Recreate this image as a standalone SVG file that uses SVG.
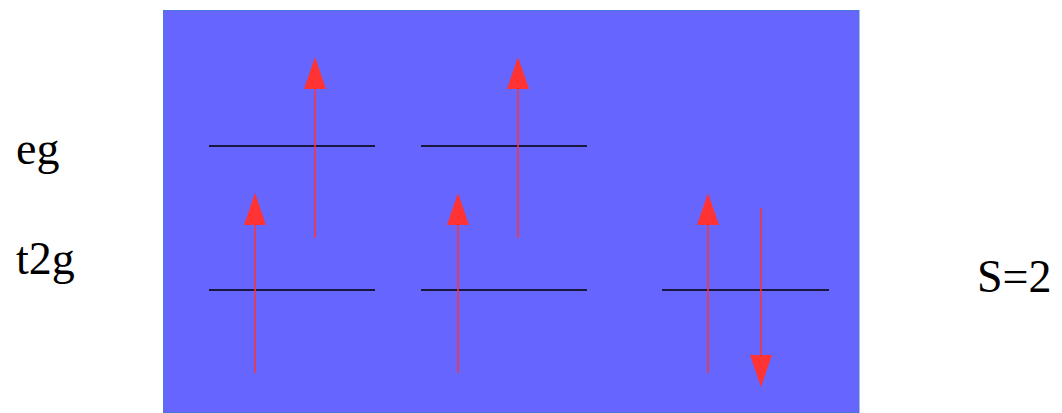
<svg xmlns="http://www.w3.org/2000/svg" width="1062" height="413" viewBox="0 0 1062 413">
<style>
.lbl{font-family:'Liberation Serif','Times New Roman',serif;font-size:46px;fill:#000}
.lvl{stroke:#000;stroke-width:1.5}
.spin{stroke:#ff3333;stroke-width:1.5}
.head{fill:#ff3333}
</style>
<rect width="1062" height="413" fill="#fff"/>
<g id="panel">
<rect x="163.5" y="10.5" width="695.5" height="402" fill="#6666ff" stroke="#4a78d8" stroke-width="1"/>
</g>
<g id="labels">
<text class="lbl" x="16" y="164">eg</text>
<text class="lbl" x="16" y="274">t2g</text>
<text class="lbl" x="977" y="292">S=2</text>
</g>
<g id="levels">
<line class="lvl" x1="209" y1="146" x2="375" y2="146"/>
<line class="lvl" x1="209" y1="290" x2="375" y2="290"/>
<line class="lvl" x1="421" y1="146" x2="587" y2="146"/>
<line class="lvl" x1="421" y1="290" x2="587" y2="290"/>
<line class="lvl" x1="662" y1="290" x2="829" y2="290"/>
</g>
<g id="connectors">
<line class="spin" x1="315" y1="238" x2="315" y2="89"/>
<polygon class="head" points="315,57 304,89 326,89"/>
<line class="spin" x1="255" y1="373" x2="255" y2="225"/>
<polygon class="head" points="255,193 244,225 266,225"/>
<line class="spin" x1="518" y1="238" x2="518" y2="89"/>
<polygon class="head" points="518,57 507,89 529,89"/>
<line class="spin" x1="458" y1="373" x2="458" y2="225"/>
<polygon class="head" points="458,193 447,225 469,225"/>
<line class="spin" x1="708" y1="373" x2="708" y2="225"/>
<polygon class="head" points="708,193 697,225 719,225"/>
<line class="spin" x1="761" y1="208" x2="761" y2="355"/>
<polygon class="head" points="761,387 750,355 772,355"/>
</g>
</svg>
